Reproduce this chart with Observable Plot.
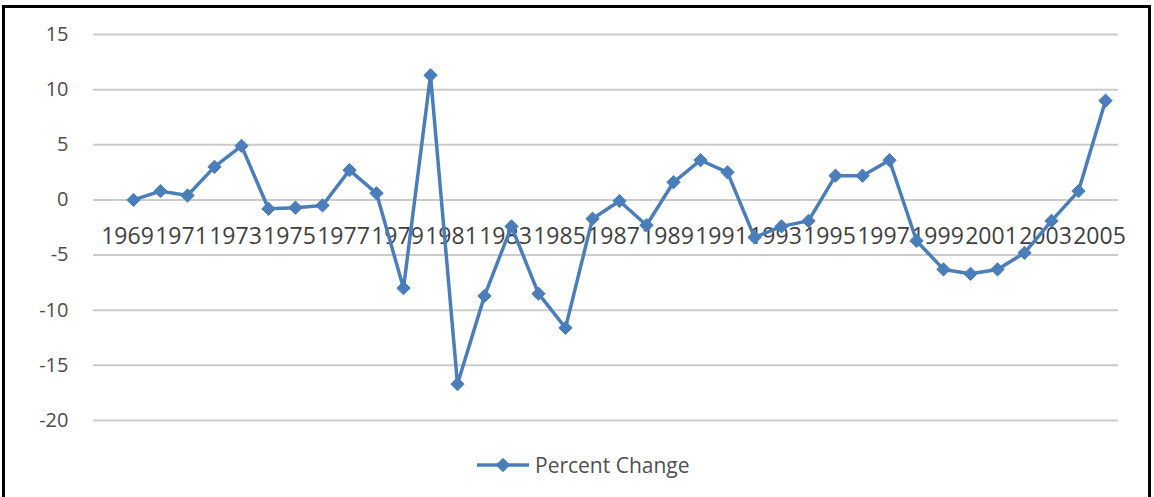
<!DOCTYPE html>
<html><head><meta charset="utf-8">
<script src="https://cdn.jsdelivr.net/npm/d3@7"></script>
<script src="https://cdn.jsdelivr.net/npm/@observablehq/plot@0.6"></script>
<style>
body{margin:0;background:#fff;}
#wrap{position:relative;width:1154px;height:497px;overflow:hidden;background:#fff;font-family:"Open Sans",sans-serif;}
#frame{position:absolute;left:2px;top:5px;width:1149px;height:600px;border:3px solid #000;box-sizing:border-box;pointer-events:none;}
#chart{position:absolute;left:0;top:0;}
#legend{position:absolute;left:476px;top:451px;display:flex;align-items:center;font-size:21px;color:#505050;line-height:28px;}
#legend svg{margin-right:5px;}
</style></head>
<body><div id="wrap"><div id="frame"></div><div id="chart"></div><div id="legend"></div></div>
<script>
const years = [1969,1970,1971,1972,1973,1974,1975,1976,1977,1978,1979,1980,1981,1982,1983,1984,1985,1986,1987,1988,1989,1990,1991,1992,1993,1994,1995,1996,1997,1998,1999,2000,2001,2002,2003,2004,2005];
const percentChange = [0.0,0.8,0.4,3.0,4.9,-0.8,-0.7,-0.5,2.7,0.6,-8.0,11.3,-16.7,-8.7,-2.4,-8.5,-11.6,-1.7,-0.1,-2.3,1.6,3.6,2.5,-3.4,-2.4,-1.9,2.2,2.2,3.6,-3.7,-6.3,-6.7,-6.3,-4.8,-1.9,0.8,9.0];
const yTicks = [-20,-15,-10,-5,0,5,10,15];
const labelYears = [1969,1971,1973,1975,1977,1979,1981,1983,1985,1987,1989,1991,1993,1995,1997,1999,2001,2003,2005];
const seriesName = "Percent Change";

const data = years.map((year, i) => ({year, value: percentChange[i]}));
const blue = "#4A7EBB";

const chart = Plot.plot({
  width: 1154, height: 440,
  marginLeft: 93, marginRight: 36, marginTop: 34, marginBottom: 20,
  style: {fontFamily: "'Open Sans', sans-serif", background: "transparent", overflow: "visible"},
  x: {type: "point", domain: years, padding: 0, insetLeft: 39, insetRight: 13, axis: null},
  y: {domain: [-20, 15], axis: null},
  marks: [
    Plot.ruleY(yTicks, {stroke: "#cbcbcb", strokeWidth: 2}),
    Plot.text(yTicks, {y: d => d, frameAnchor: "left", textAnchor: "end", dx: -25, fontSize: 20, fill: "#4d4d4d", text: d => String(d)}),
    Plot.text(labelYears, {x: d => d, y: d => 0, dy: 37, dx: -6, fontSize: 23, fill: "#404040", text: d => String(d)}),
    Plot.line(data, {x: "year", y: "value", stroke: blue, strokeWidth: 3.5}),
    Plot.dot(data, {x: "year", y: "value", symbol: "diamond2", r: 6, fill: blue, stroke: blue, strokeWidth: 1})
  ]
});
document.getElementById("chart").appendChild(chart);

const legend = document.getElementById("legend");
const sw = d3.create("svg").attr("width", 54).attr("height", 20);
sw.append("line").attr("x1", 1).attr("x2", 53).attr("y1", 10).attr("y2", 10).attr("stroke", blue).attr("stroke-width", 3.5);
sw.append("path").attr("d", d3.symbol(d3.symbolDiamond2, Math.PI * 6 * 6)()).attr("transform", "translate(27,10)").attr("fill", blue).attr("stroke", blue);
legend.appendChild(sw.node());
const lt = document.createElement("span");
lt.textContent = seriesName;
legend.appendChild(lt);
</script>
</body></html>
